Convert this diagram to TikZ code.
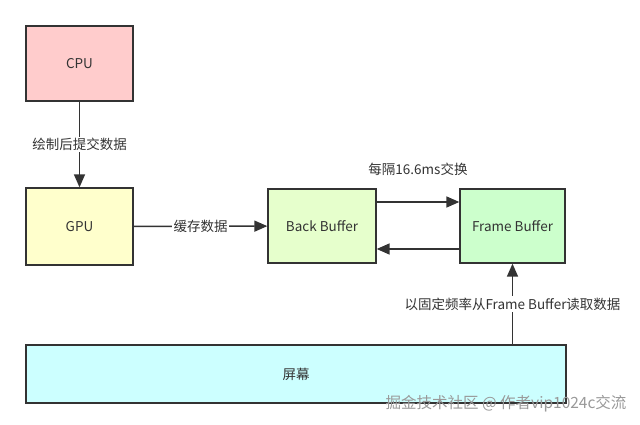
\documentclass[tikz,border=0pt]{standalone}
\usepackage{fontspec}
\setmainfont{Noto Sans CJK SC}
\usetikzlibrary{positioning, arrows.meta}

\definecolor{cpupink}{HTML}{FFCCCC}
\definecolor{gpuyellow}{HTML}{FFFFCC}
\definecolor{backgreen}{HTML}{E6FFCC}
\definecolor{framegreen}{HTML}{CCFFCC}
\definecolor{screencyan}{HTML}{CCFFFF}
\definecolor{edgegray}{HTML}{333333}
\definecolor{textgray}{HTML}{333333}

\begin{document}
\begin{tikzpicture}[
  x=1pt, y=-1pt,
  font=\fontsize{13.5}{16}\selectfont,
  unit/.style={rectangle, draw=edgegray, line width=1.3pt, text=textgray, inner sep=0pt},
  msg/.style={-{Triangle[length=13pt,width=11pt]}, line width=1.5pt, draw=edgegray},
  lbl/.style={fill=white, inner sep=1.5pt, text=textgray},
]
\useasboundingbox (0,0) rectangle (640,425);

\node[unit, fill=cpupink, minimum width=107pt, minimum height=75pt] (cpu) at (79.5,63.5) {CPU};
\node[unit, fill=gpuyellow, minimum width=107pt, minimum height=77pt] (gpu) at (79.5,226.5) {GPU};
\node[unit, fill=backgreen, minimum width=108pt, minimum height=74pt] (back) at (322,226) {Back Buffer};
\node[unit, fill=framegreen, minimum width=105pt, minimum height=74pt] (frame) at (512.5,226) {Frame Buffer};
\node[unit, fill=screencyan, minimum width=540pt, minimum height=58pt] (screen) at (296,374) {屏幕};

\draw[msg] (cpu) -- node[lbl]{绘制后提交数据} (gpu);
\draw[msg] (gpu) -- node[lbl]{缓存数据} (back);
\draw[msg] ([yshift=24pt]back.east) -- node[midway, above=22pt, text=textgray]{每隔16.6ms交换} ([yshift=24pt]frame.west);
\draw[msg] ([yshift=-23pt]frame.west) -- ([yshift=-23pt]back.east);
\draw[msg] (frame.south |- screen.north) -- node[lbl]{以固定频率从Frame Buffer读取数据} (frame.south);

% watermark
\node[text=gray!80, font=\fontsize{15.5}{18}\selectfont, anchor=east] (mark) at (630,404) {掘金技术社区 @ 作者vip1024c交流};
\end{tikzpicture}
\end{document}
